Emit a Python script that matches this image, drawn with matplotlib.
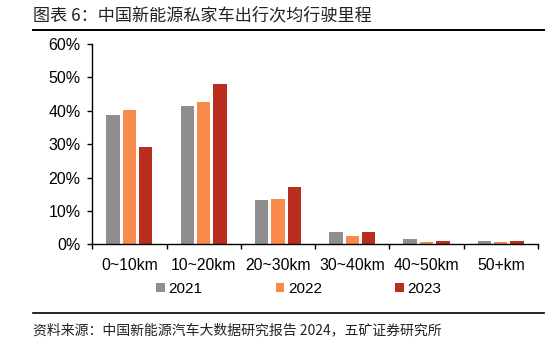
import matplotlib
matplotlib.use("Agg")
import matplotlib.pyplot as plt
import numpy as np
from matplotlib.patches import Patch
from matplotlib.lines import Line2D

categories = ["0~10km", "10~20km", "20~30km", "30~40km", "40~50km", "50+km"]
years = ["2021", "2022", "2023"]
share_2021 = [38.7, 41.4, 13.2, 3.7, 1.5, 1.0]
share_2022 = [40.1, 42.7, 13.6, 2.4, 0.7, 0.7]
share_2023 = [29.0, 48.1, 17.2, 3.7, 1.0, 1.0]
y_ticks = [0, 10, 20, 30, 40, 50, 60]

colors = ["#8f8f8f", "#f88b4b", "#b82d1b"]
cjk = ["Noto Sans CJK SC", "DejaVu Sans"]
latin = ["Liberation Sans", "DejaVu Sans"]

fig = plt.figure(figsize=(5.5, 3.42), dpi=100)
ax = fig.add_axes([0.1678, 0.2857, 0.978 - 0.1678, 0.8713 - 0.2857])

x = np.arange(len(categories))
width = 0.18
step = 0.22
for i, (vals, c) in enumerate(zip([share_2021, share_2022, share_2023], colors)):
    ax.bar(x + (i - 1) * step, vals, width=width, color=c, linewidth=0)

ax.set_xlim(-0.5, len(categories) - 0.5)
ax.set_ylim(0, 60)
ax.set_yticks(y_ticks)
ax.set_yticklabels([f"{v}%" for v in y_ticks], family=latin, fontsize=11.5)
ax.set_xticks(x)
ax.set_xticklabels(categories, family=latin, fontsize=11.3)
ax.set_xticks(np.arange(-0.5, len(categories)), minor=True)
ax.tick_params(axis="x", which="major", length=0, pad=10)
ax.tick_params(axis="x", which="minor", length=3.6, width=1.0, direction="out")
ax.tick_params(axis="y", length=3.4, width=1.0, direction="out", pad=5)

for s in ["top", "right"]:
    ax.spines[s].set_visible(False)
for s in ["left", "bottom"]:
    ax.spines[s].set_linewidth(1.0)
    ax.spines[s].set_color("black")

handles = [Patch(facecolor=c, edgecolor="none") for c in colors]
fig.legend(handles, years, loc="center", bbox_to_anchor=(0.5436, 0.155), ncol=3,
           frameon=False, handlelength=0.55, handleheight=0.55, handletextpad=0.25,
           columnspacing=4.8, prop={"family": latin, "size": 11})

fig.text(0.06, 1 - 15 / 342, "图表 6：中国新能源私家车出行次均行驶里程", family=cjk,
         fontsize=12.3, color="#222222", va="center", ha="left")
fig.add_artist(Line2D([0.06, 0.989], [1 - 30 / 342] * 2, color="black", linewidth=1.4))
fig.add_artist(Line2D([0.06, 0.989], [1 - 312.7 / 342] * 2, color="black", linewidth=1.2))
fig.text(0.06, 1 - 330.7 / 342, "资料来源：中国新能源汽车大数据研究报告 2024，五矿证券研究所",
         family=cjk, fontsize=10, color="#222222", va="center", ha="left")

fig.savefig("out.png", dpi=100)
